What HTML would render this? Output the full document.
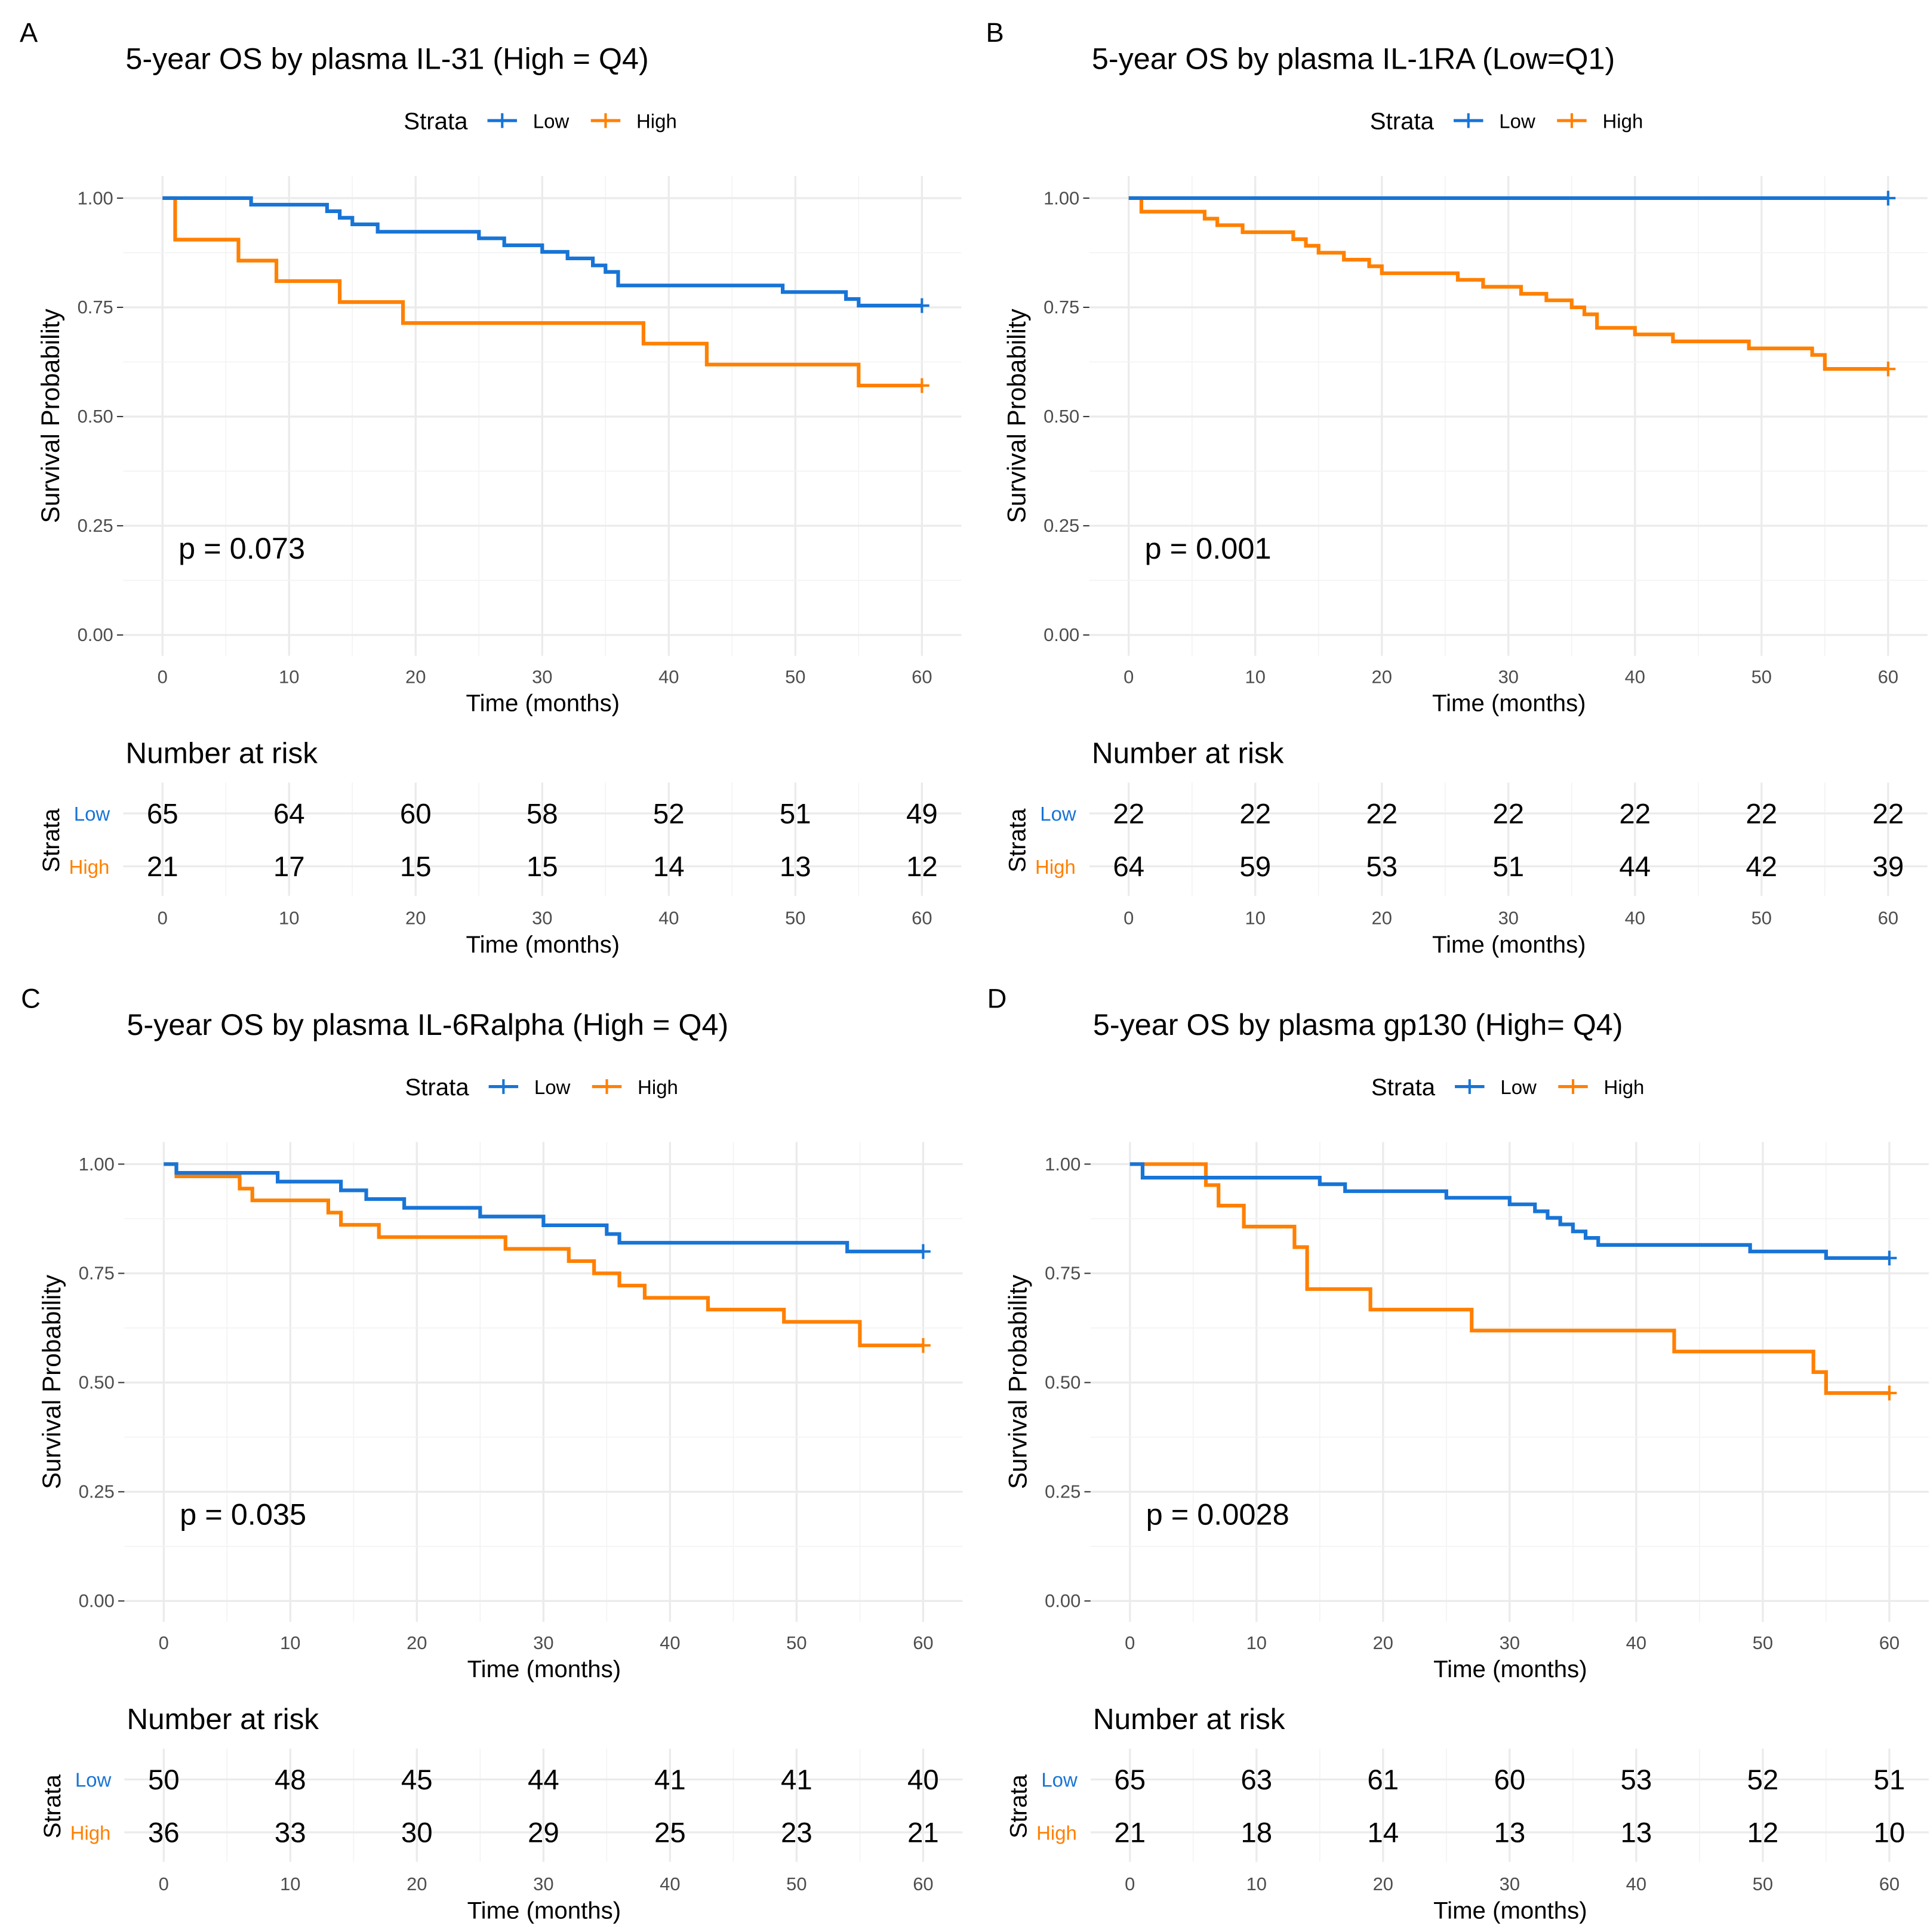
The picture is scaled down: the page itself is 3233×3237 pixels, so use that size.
<!DOCTYPE html>
<html><head><meta charset="utf-8"><style>
html,body{margin:0;padding:0;background:#fff;}
svg{display:block;font-family:"Liberation Sans",Arial,sans-serif;}
</style></head><body>
<svg id="fig" width="3233" height="3237" viewBox="0 0 1568 1570" xmlns="http://www.w3.org/2000/svg"></svg>
<script>
const timeTicks = [0,10,20,30,40,50,60];
const survTicks = [0,0.25,0.5,0.75,1.0];
const survTickLabels = ["0.00","0.25","0.50","0.75","1.00"];
const panelLetters = ["A","B","C","D"];
const panelTitles = ["5-year OS by plasma IL-31 (High = Q4)","5-year OS by plasma IL-1RA (Low=Q1)","5-year OS by plasma IL-6Ralpha (High = Q4)","5-year OS by plasma gp130 (High= Q4)"];
const pValues = ["p = 0.073","p = 0.001","p = 0.035","p = 0.0028"];
// step curves: [time, survival] pairs
const lowA = [[0,1],[7,0.985],[13,0.97],[14,0.955],[15,0.94],[17,0.923],[25,0.908],[27,0.892],[30,0.877],[32,0.862],[34,0.846],[35,0.831],[36,0.8],[49,0.785],[54,0.769],[55,0.754],[60,0.754]];
const highA = [[0,1],[1,0.905],[6,0.857],[9,0.81],[14,0.762],[19,0.714],[38,0.667],[43,0.619],[55,0.571],[60,0.571]];
const lowB = [[0,1],[60,1]];
const highB = [[0,1],[1,0.969],[6,0.953],[7,0.938],[9,0.922],[13,0.906],[14,0.891],[15,0.875],[17,0.859],[19,0.844],[20,0.828],[26,0.813],[28,0.797],[31,0.781],[33,0.766],[35,0.75],[36,0.734],[37,0.703],[40,0.688],[43,0.672],[49,0.656],[54,0.641],[55,0.609],[60,0.609]];
const lowC = [[0,1],[1,0.98],[9,0.96],[14,0.94],[16,0.92],[19,0.9],[25,0.88],[30,0.86],[35,0.84],[36,0.82],[54,0.8],[60,0.8]];
const highC = [[0,1],[1,0.972],[6,0.944],[7,0.917],[13,0.889],[14,0.861],[17,0.833],[27,0.806],[32,0.778],[34,0.75],[36,0.722],[38,0.694],[43,0.667],[49,0.639],[55,0.585],[60,0.585]];
const lowD = [[0,1],[1,0.969],[15,0.954],[17,0.938],[25,0.923],[30,0.908],[32,0.892],[33,0.877],[34,0.862],[35,0.846],[36,0.831],[37,0.815],[49,0.8],[55,0.785],[60,0.785]];
const highD = [[0,1],[6,0.952],[7,0.905],[9,0.857],[13,0.81],[14,0.714],[19,0.667],[27,0.619],[43,0.571],[54,0.524],[55,0.476],[60,0.476]];
const riskLowA=[65,64,60,58,52,51,49], riskHighA=[21,17,15,15,14,13,12];
const riskLowB=[22,22,22,22,22,22,22], riskHighB=[64,59,53,51,44,42,39];
const riskLowC=[50,48,45,44,41,41,40], riskHighC=[36,33,30,29,25,23,21];
const riskLowD=[65,63,61,60,53,52,51], riskHighD=[21,18,14,13,13,12,10];

const lows=[lowA,lowB,lowC,lowD], highs=[highA,highB,highC,highD];
const rLows=[riskLowA,riskLowB,riskLowC,riskLowD], rHighs=[riskHighA,riskHighB,riskHighC,riskHighD];
const BLUE="#1874d6", ORANGE="#ff8000";
const svg=document.getElementById('fig'), NS="http://www.w3.org/2000/svg";
function mk(tag,attrs,parent,text){const e=document.createElementNS(NS,tag);for(const k in attrs)e.setAttribute(k,attrs[k]);if(text!==undefined)e.textContent=text;parent.appendChild(e);return e;}

for(let p=0;p<4;p++){
  const ox = (p%2)*785 + (p>=2?1:0), oy = Math.floor(p/2)*785;
  const g=mk('g',{},svg);
  
  
  const x0=132+ox, x1=749+ox, yTop=161+oy, yBot=516+oy;
  const X=t=>x0+(x1-x0)*t/60, Y=s=>yBot-(yBot-yTop)*s;
  let e;
  e=mk('text',{x:16+ox,y:34+oy,'font-size':22},g,panelLetters[p]);
  e=mk('text',{x:102+ox,y:56+oy,'font-size':24.4},g,panelTitles[p]);
  const lg=mk('g',{},g);
  mk('text',{x:328+ox,y:105+oy,'font-size':19.5},lg,'Strata');
  [[BLUE,'Low',396],[ORANGE,'High',480]].forEach(([c,l,lx])=>{
    const en=mk('g',{},lg);
    mk('line',{x1:lx+ox,x2:lx+24+ox,y1:98+oy,y2:98+oy,stroke:c,'stroke-width':2.5},en);
    mk('line',{x1:lx+12+ox,x2:lx+12+ox,y1:92+oy,y2:104+oy,stroke:c,'stroke-width':2},en);
    mk('text',{x:lx+37+ox,y:104+oy,'font-size':16},en,l);
  });
  const pl=100+ox, pr=781+ox, pt=143+oy, pb=533+oy;
  for(let i=0;i<timeTicks.length;i++){
    const t=timeTicks[i];
    mk('line',{x1:X(t),x2:X(t),y1:pt,y2:pb,stroke:'#ebebeb','stroke-width':1.6},g);
    if(i<timeTicks.length-1) mk('line',{x1:X(t+5),x2:X(t+5),y1:pt,y2:pb,stroke:'#f3f3f3','stroke-width':0.8},g);
    e=mk('text',{x:X(t),y:555+oy,'font-size':15,fill:'#4d4d4d','text-anchor':'middle'},g,String(t));
    
  }
  for(let i=0;i<survTicks.length;i++){
    const s=survTicks[i];
    mk('line',{x1:pl,x2:pr,y1:Y(s),y2:Y(s),stroke:'#ebebeb','stroke-width':1.6},g);
    if(i<survTicks.length-1) mk('line',{x1:pl,x2:pr,y1:Y(s+0.125),y2:Y(s+0.125),stroke:'#f3f3f3','stroke-width':0.8},g);
    mk('line',{x1:95+ox,x2:100+ox,y1:Y(s),y2:Y(s),stroke:'#333','stroke-width':1},g);
    e=mk('text',{x:92+ox,y:Y(s)+5,'font-size':15,fill:'#4d4d4d','text-anchor':'end'},g,survTickLabels[i]);
    
  }
  e=mk('text',{x:441+ox,y:578+oy,'font-size':19.5,'text-anchor':'middle'},g,'Time (months)');
  e=mk('text',{'font-size':20.5,'text-anchor':'middle'},g,'Survival Probability');
  e.setAttribute('transform',`translate(${48+ox},${338+oy}) rotate(-90)`);
  
  e=mk('text',{x:145+ox,y:454+oy,'font-size':24.5},g,pValues[p]);
  [[highs[p],ORANGE,'high'],[lows[p],BLUE,'low']].forEach(([pts,c,nm])=>{
    let d=`M${X(pts[0][0])},${Y(pts[0][1])}`;
    for(let i=1;i<pts.length;i++){d+=`H${X(pts[i][0])}V${Y(pts[i][1])}`;}
    const path=mk('path',{d:d,fill:'none',stroke:c,'stroke-width':3},g);
    
    const last=pts[pts.length-1];
    mk('path',{d:`M${X(last[0])-6},${Y(last[1])}h12M${X(last[0])},${Y(last[1])-6}v12`,stroke:c,'stroke-width':2},g);
  });
  const rt=mk('g',{},g);
  mk('text',{x:102+ox,y:620+oy,'font-size':24},rt,'Number at risk');
  const ra=661+oy, rb=704+oy;
  for(let i=0;i<timeTicks.length;i++){
    const t=timeTicks[i];
    mk('line',{x1:X(t),x2:X(t),y1:636+oy,y2:728+oy,stroke:'#ebebeb','stroke-width':1.6},rt);
    if(i<6) mk('line',{x1:X(t+5),x2:X(t+5),y1:636+oy,y2:728+oy,stroke:'#f3f3f3','stroke-width':0.8},rt);
  }
  mk('line',{x1:pl,x2:pr,y1:ra,y2:ra,stroke:'#ebebeb','stroke-width':1.6},rt);
  mk('line',{x1:pl,x2:pr,y1:rb,y2:rb,stroke:'#ebebeb','stroke-width':1.6},rt);
  mk('text',{x:60+ox,y:ra+6,'font-size':16,fill:BLUE},rt,'Low');
  mk('text',{x:56+ox,y:rb+6,'font-size':16,fill:ORANGE},rt,'High');
  const st=mk('text',{'font-size':19.5,'text-anchor':'middle'},rt,'Strata');st.setAttribute('transform',`translate(${48+ox},${683+oy}) rotate(-90)`);
  for(let i=0;i<timeTicks.length;i++){
    const t=timeTicks[i];
    e=mk('text',{x:X(t),y:ra+8,'font-size':23,'text-anchor':'middle'},rt,String(rLows[p][i]));
    e=mk('text',{x:X(t),y:rb+8,'font-size':23,'text-anchor':'middle'},rt,String(rHighs[p][i]));
    mk('text',{x:X(t),y:751+oy,'font-size':15,fill:'#4d4d4d','text-anchor':'middle'},rt,String(t));
  }
  mk('text',{x:441+ox,y:774+oy,'font-size':19.5,'text-anchor':'middle'},rt,'Time (months)');
}
</script>
</body></html>
